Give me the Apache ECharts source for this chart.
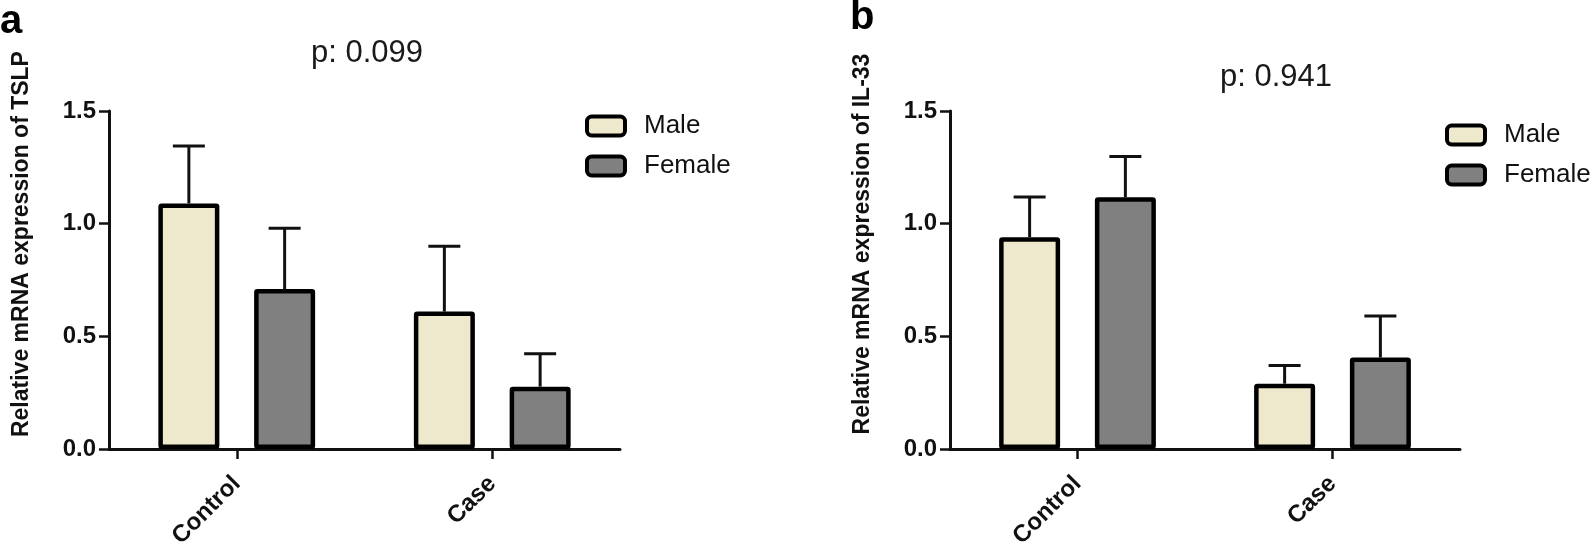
<!DOCTYPE html>
<html>
<head>
<meta charset="utf-8">
<script src="https://cdn.jsdelivr.net/npm/echarts@6/dist/echarts.min.js"></script>
<style>
html,body{margin:0;padding:0;background:#fff;}
#chart{width:1595px;height:551px;}
</style>
</head>
<body>
<div id="chart"></div>
<script>
// ---- data ----
var categories = ['Control', 'Case'];
var seriesNames = ['Male', 'Female'];

// Panel a: TSLP
var tslpMale = [1.09, 0.61];
var tslpMaleErr = [0.255, 0.29];
var tslpFemale = [0.71, 0.277];
var tslpFemaleErr = [0.27, 0.146];
var pTSLP = 'p: 0.099';

// Panel b: IL-33
var il33Male = [0.94, 0.29];
var il33MaleErr = [0.178, 0.081];
var il33Female = [1.117, 0.406];
var il33FemaleErr = [0.181, 0.184];
var pIL33 = 'p: 0.941';

var yTitleA = 'Relative mRNA expression of TSLP';
var yTitleB = 'Relative mRNA expression of IL-33';

// ---- styles ----
var FONT = '"Liberation Sans", Arial, Helvetica, sans-serif';
var MALE_COLOR = '#EEE8CC';
var FEMALE_COLOR = '#808080';
var BAR_W = 61;
var BAR_GAP = 0.57;
var OFFSET = (BAR_W + BAR_W * BAR_GAP) / 2;

var chart = echarts.init(document.getElementById('chart'), null, {renderer: 'canvas'});

function yAxisCfg(gi, title) {
  return {
    type: 'value', gridIndex: gi, min: 0, max: 1.5, interval: 0.5,
    name: title, nameLocation: 'middle', nameGap: 76,
    nameTextStyle: {fontFamily: FONT, fontWeight: 'bold', fontSize: 23, color: '#111', padding: [0, 0, 0, 72]},
    axisLine: {show: true, lineStyle: {color: '#111', width: 3}},
    axisTick: {show: true, length: 10, lineStyle: {color: '#111', width: 2.5}},
    axisLabel: {margin: 13, fontFamily: FONT, fontWeight: 'bold', fontSize: 24, color: '#111',
      formatter: function (v) { return v.toFixed(1); }},
    splitLine: {show: false}
  };
}
function xAxisCfg(gi) {
  return {
    type: 'category', gridIndex: gi, data: categories,
    axisLine: {show: true, lineStyle: {color: '#111', width: 3}},
    axisTick: {show: true, alignWithLabel: true, length: 10, lineStyle: {color: '#111', width: 2.5}},
    axisLabel: {rotate: 45, margin: 31, fontFamily: FONT, fontWeight: 'bold', fontSize: 24, color: '#111'}
  };
}
function barSeries(name, gi, data, color) {
  return {
    type: 'bar', name: name, xAxisIndex: gi, yAxisIndex: gi, data: data,
    barWidth: BAR_W, barGap: (BAR_GAP * 100) + '%', z: 3,
    itemStyle: {color: color, borderColor: '#000', borderWidth: 4.5, borderRadius: 1},
    emphasis: {disabled: true}
  };
}
function errSeries(gi, vals, errs, sign) {
  var d = vals.map(function (v, i) { return [i, v, errs[i]]; });
  return {
    type: 'custom', xAxisIndex: gi, yAxisIndex: gi, data: d, z: 2, silent: true,
    renderItem: function (params, api) {
      var c = api.value(0), v = api.value(1), e = api.value(2);
      var top = api.coord([c, v + e]);
      var base = api.coord([c, v]);
      var x = top[0] + sign * OFFSET;
      var cap = 16;
      return {
        type: 'group',
        children: [
          {type: 'line', shape: {x1: x, y1: base[1], x2: x, y2: top[1]}, style: {stroke: '#111', lineWidth: 3}},
          {type: 'line', shape: {x1: x - cap, y1: top[1], x2: x + cap, y2: top[1]}, style: {stroke: '#111', lineWidth: 3}}
        ]
      };
    }
  };
}
function legendCfg(left, top) {
  return {
    data: seriesNames, orient: 'vertical', left: left, top: top,
    itemWidth: 38, itemHeight: 19, itemGap: 14, icon: 'roundRect',
    selectedMode: false,
    itemStyle: {borderColor: '#000', borderWidth: 4},
    textStyle: {fontFamily: FONT, fontSize: 26, color: '#111', padding: [0, 0, 0, 14]}
  };
}

var option = {
  backgroundColor: '#fff',
  animation: false,
  grid: [
    {left: 109, top: 111, width: 511, height: 340},
    {left: 950, top: 111, width: 510, height: 340}
  ],
  xAxis: [xAxisCfg(0), xAxisCfg(1)],
  yAxis: [yAxisCfg(0, yTitleA), yAxisCfg(1, yTitleB)],
  legend: [legendCfg(580, 108), legendCfg(1440, 117)],
  series: [
    barSeries('Male', 0, tslpMale, MALE_COLOR),
    barSeries('Female', 0, tslpFemale, FEMALE_COLOR),
    errSeries(0, tslpMale, tslpMaleErr, -1),
    errSeries(0, tslpFemale, tslpFemaleErr, 1),
    barSeries('Male', 1, il33Male, MALE_COLOR),
    barSeries('Female', 1, il33Female, FEMALE_COLOR),
    errSeries(1, il33Male, il33MaleErr, -1),
    errSeries(1, il33Female, il33FemaleErr, 1)
  ],
  graphic: [
    {type: 'text', left: 0, top: 2, style: {text: 'a', font: 'bold 40px ' + FONT, fill: '#000'}},
    {type: 'text', left: 850, top: -2, style: {text: 'b', font: 'bold 40px ' + FONT, fill: '#000'}},
    {type: 'text', left: 311, top: 38, style: {text: pTSLP, font: '31px ' + FONT, fill: '#1a1a1a'}},
    {type: 'text', left: 1220, top: 62, style: {text: pIL33, font: '31px ' + FONT, fill: '#1a1a1a'}}
  ]
};
chart.setOption(option);
</script>
</body>
</html>
